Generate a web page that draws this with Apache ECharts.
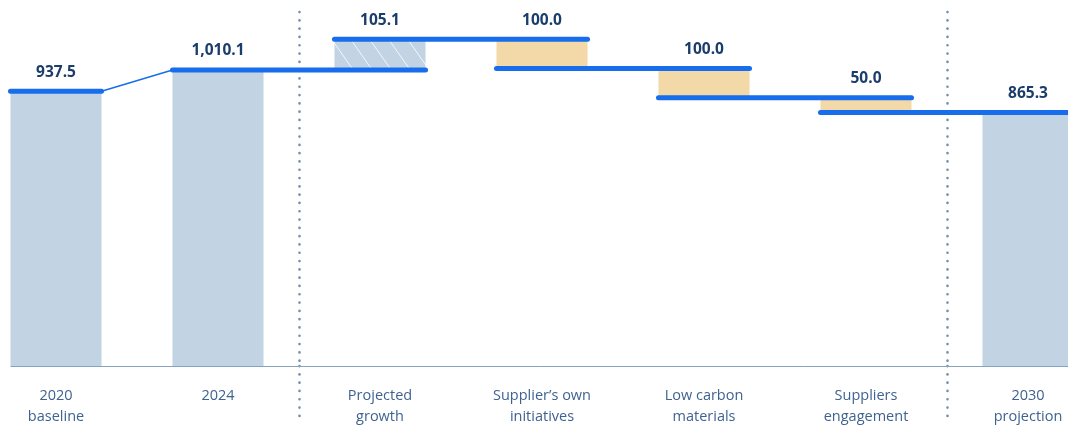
<!DOCTYPE html>
<html>
<head>
<meta charset="utf-8">
<script src="https://cdn.jsdelivr.net/npm/echarts@6/dist/echarts.min.js"></script>
<style>
  html, body { margin: 0; padding: 0; background: #ffffff; }
  #chart { width: 1068px; height: 425px; }
</style>
</head>
<body>
<div id="chart"></div>
<script>
// ---- data ----
const categories = ['2020\nbaseline', '2024', 'Projected\ngrowth', 'Supplier\u2019s own\ninitiatives', 'Low carbon\nmaterials', 'Suppliers\nengagement', '2030\nprojection'];
const values = [937.5, 1010.1, 105.1, -100.0, -100.0, -50.0, 865.3];
const kinds = ['total', 'total', 'change', 'change', 'change', 'change', 'total'];
const valueLabels = ['937.5', '1,010.1', '105.1', '100.0', '100.0', '50.0', '865.3'];
const separatorBefore = [2, 6];

// ---- derived waterfall ranges ----
const starts = [], ends = [];
let level = 0;
values.forEach(function (v, i) {
  if (kinds[i] === 'total') { starts.push(0); ends.push(v); level = v; }
  else { starts.push(level); ends.push(level + v); level = level + v; }
});
const seriesData = values.map(function (v, i) { return [i, starts[i], ends[i]]; });

// ---- styles ----
const BLUE = '#176DEB';
const TOTAL_FILL = '#C2D4E3';
const DEC_FILL = '#F4D9A8';
const NAVY = '#1B3D6B';
const CAT_COLOR = '#3F6390';
const SEP_COLOR = '#7090AE';
const BAR_RATIO = 0.562;

// hatch pattern
const pat = document.createElement('canvas');
pat.width = 19; pat.height = 27;
(function () {
  const c = pat.getContext('2d');
  c.fillStyle = TOTAL_FILL;
  c.fillRect(0, 0, 19, 27);
  c.strokeStyle = 'rgba(255,255,255,0.8)';
  c.lineWidth = 1;
  [-19, 0, 19].forEach(function (dx) {
    c.beginPath();
    c.moveTo(dx - 5, -7.1);
    c.lineTo(dx + 24, 34.1);
    c.stroke();
  });
})();
const hatch = { image: pat, repeat: 'repeat' };

const chart = echarts.init(document.getElementById('chart'), null, { renderer: 'canvas' });

function renderItem(params, api) {
  const i = api.value(0);
  const s = api.value(1), e = api.value(2);
  const band = api.size([1, 0])[0];
  const bw = band * BAR_RATIO;
  const pS = api.coord([i, s]);
  const pE = api.coord([i, e]);
  const cx = pS[0];
  const x0 = cx - bw / 2, x1 = cx + bw / 2;
  const yTop = Math.min(pS[1], pE[1]);
  const yBot = Math.max(pS[1], pE[1]);
  let fill = TOTAL_FILL;
  if (kinds[i] === 'change') fill = values[i] >= 0 ? hatch : DEC_FILL;
  const children = [];
  children.push({
    type: 'rect', z2: 2,
    shape: { x: x0, y: yTop, width: bw, height: yBot - yTop },
    style: { fill: fill }
  });
  const n = values.length;
  let lx2 = x1;
  if (i < n - 1) {
    if (kinds[i] === 'total' && kinds[i + 1] === 'total') {
      const nx = api.coord([i + 1, ends[i + 1]]);
      children.push({
        type: 'line', z2: 9,
        shape: { x1: x1, y1: pE[1], x2: nx[0] - bw / 2, y2: nx[1] },
        style: { stroke: BLUE, lineWidth: 1.4 }
      });
    } else {
      lx2 = x1 + band;
    }
  }
  children.push({
    type: 'line', z2: 10,
    shape: { x1: x0, y1: pE[1], x2: lx2, y2: pE[1] },
    style: { stroke: BLUE, lineWidth: 5, lineCap: 'round' }
  });
  if (i === 0) {
    const base = api.coord([0, 0]);
    children.push({
      type: 'line', z2: 1,
      shape: { x1: x0, y1: base[1] + 0.5, x2: params.coordSys.x + params.coordSys.width, y2: base[1] + 0.5 },
      style: { stroke: '#86A2BC', lineWidth: 1 }
    });
  }
  children.push({
    type: 'text', z2: 11,
    style: {
      text: valueLabels[i], x: cx, y: yTop - 19,
      align: 'center', verticalAlign: 'middle',
      fill: NAVY, font: 'bold 15.5px "Open Sans", sans-serif'
    }
  });
  return { type: 'group', children: children };
}

const sepLine = {
  color: SEP_COLOR, width: 2.6, type: [0.1, 8.2], cap: 'round'
};

chart.setOption({
  animation: false,
  backgroundColor: '#ffffff',
  grid: { left: -25, right: -41, top: 12, bottom: 59, containLabel: false, outerBoundsMode: 'none' },
  xAxis: {
    type: 'category',
    data: categories,
    boundaryGap: true,
    axisLine: { show: false },
    axisTick: {
      show: true, length: 56, inside: false,
      interval: function (idx) { return separatorBefore.indexOf(idx) >= 0; },
      lineStyle: sepLine
    },
    splitLine: {
      show: true,
      interval: function (idx) { return separatorBefore.indexOf(idx) >= 0; },
      lineStyle: sepLine
    },
    axisLabel: {
      interval: 0, margin: 20,
      color: CAT_COLOR, fontSize: 14.5, lineHeight: 20.5,
      fontFamily: '"Open Sans", sans-serif'
    }
  },
  yAxis: {
    type: 'value', min: 0, max: 1208, show: false,
    splitLine: { show: false }
  },
  series: [{
    type: 'custom',
    renderItem: renderItem,
    data: seriesData,
    encode: { x: 0, y: [1, 2] },
    clip: false
  }]
});
</script>
</body>
</html>
